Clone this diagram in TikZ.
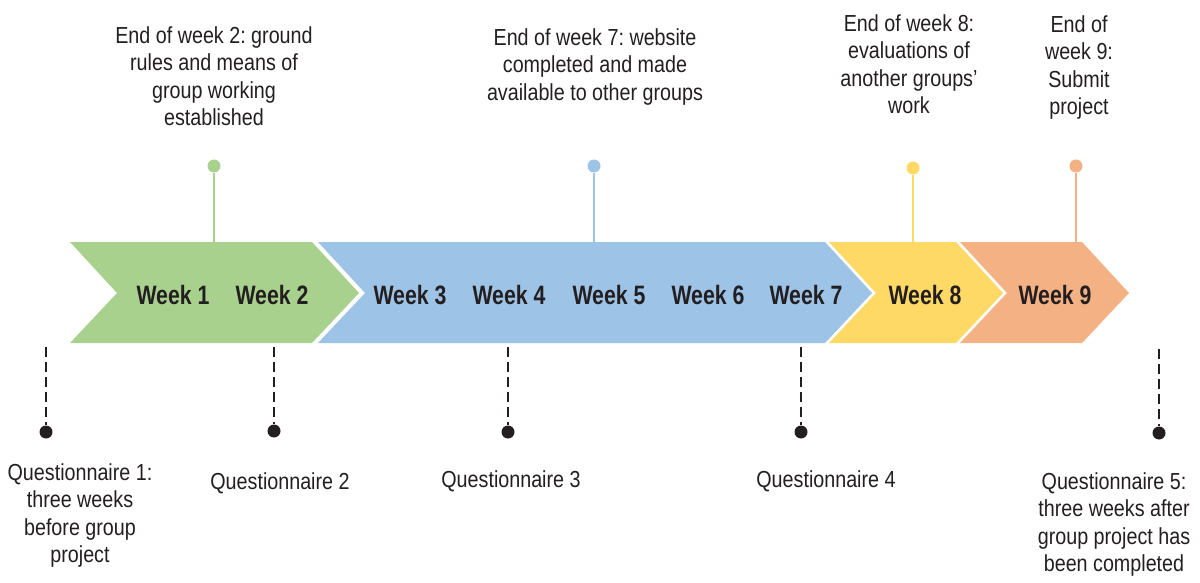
\documentclass[tikz,border=0pt]{standalone}
\usepackage{fontspec}
\setmainfont{Liberation Sans}[FakeStretch=0.85]
\newfontfamily\weekfont{Liberation Sans}[FakeStretch=0.8]
\usetikzlibrary{positioning}
\frenchspacing

\definecolor{ink}{HTML}{231F20}
\definecolor{wkgreen}{HTML}{A9D18E}
\definecolor{wkblue}{HTML}{9DC3E6}
\definecolor{wkyellow}{HTML}{FFD966}
\definecolor{wkorange}{HTML}{F4B183}

\begin{document}
\begin{tikzpicture}[x=0.5pt, y=-0.5pt,
    week/.style={font=\weekfont\bfseries\fontsize{13.3}{16}\selectfont, text=ink, inner sep=0pt},
    milestone/.style={font=\fontsize{11.6}{13.75}\selectfont, text=ink, align=center, inner sep=0pt, anchor=north},
    pinhead/.style={circle, fill=#1, inner sep=0pt, minimum size=6.5pt},
    pinline/.style={draw=#1, line width=1pt},
    qdot/.style={circle, fill=ink, inner sep=0pt, minimum size=6.5pt},
    qline/.style={draw=ink, line width=1.2pt, dash pattern=on 5pt off 2.5pt}]
    \useasboundingbox (0,0) rectangle (1200,583);

    % Chevrons: weeks 1-2, 3-7, 8 and 9
    \fill[wkgreen]  (70,242) -- (312,242) -- (359,293) -- (312,343) -- (70,343) -- (117,293) -- cycle;
    \fill[wkblue]   (318,242) -- (825,242) -- (872,293) -- (825,343) -- (318,343) -- (365,293) -- cycle;
    \fill[wkyellow] (829,242) -- (956,242) -- (1003,293) -- (956,343) -- (829,343) -- (876,293) -- cycle;
    \fill[wkorange] (960,242) -- (1082,242) -- (1129,293) -- (1082,343) -- (960,343) -- (1007,293) -- cycle;

    % Week labels
    \node[week] (w1) at (173,295) {Week 1};
    \node[week] (w2) at (272,295) {Week 2};
    \node[week] (w3) at (410,295) {Week 3};
    \node[week] (w4) at (509,295) {Week 4};
    \node[week] (w5) at (609,295) {Week 5};
    \node[week] (w6) at (708,295) {Week 6};
    \node[week] (w7) at (806,295) {Week 7};
    \node[week] (w8) at (925,295) {Week 8};
    \node[week] (w9) at (1055,295) {Week 9};

    % Milestones above the band
    \coordinate (t2) at (214,242);
    \coordinate (t7) at (594,242);
    \coordinate (t8) at (913,242);
    \coordinate (t9) at (1076,242);
    \node[pinhead=wkgreen]  (p2) at (214,166) {};
    \node[pinhead=wkblue]   (p7) at (594,166) {};
    \node[pinhead=wkyellow] (p8) at (913,168) {};
    \node[pinhead=wkorange] (p9) at (1076,166) {};
    \path[pinline=wkgreen]  (t2) -- (p2);
    \path[pinline=wkblue]   (t7) -- (p7);
    \path[pinline=wkyellow] (t8) -- (p8);
    \path[pinline=wkorange] (t9) -- (p9);

    \node[milestone] (m2) at (214,26) {End of week 2: ground\\rules and means of\\group working\\established};
    \node[milestone] (m7) at (595,28) {End of week 7: website\\completed and made\\available to other groups};
    \node[milestone] (m8) at (909,14) {End of week 8:\\evaluations of\\another groups'\\work};
    \node[milestone] (m9) at (1079,15) {End of\\week 9:\\Submit\\project};

    % Questionnaires below the band
    \coordinate (b1) at (46,347);
    \coordinate (b2) at (274,347);
    \coordinate (b3) at (508,347);
    \coordinate (b4) at (801,347);
    \coordinate (b5) at (1159,349);
    \node[qdot] (d1) at (46,432) {};
    \node[qdot] (d2) at (274,431) {};
    \node[qdot] (d3) at (508,432) {};
    \node[qdot] (d4) at (801,432) {};
    \node[qdot] (d5) at (1159,433) {};
    \path[qline] (b1) -- (d1);
    \path[qline] (b2) -- (d2);
    \path[qline] (b3) -- (d3);
    \path[qline] (b4) -- (d4);
    \path[qline] (b5) -- (d5);

    \node[milestone] (q1) at (80,463) {Questionnaire 1:\\three weeks\\before group\\project};
    \node[milestone] (q2) at (280,472) {Questionnaire 2};
    \node[milestone] (q3) at (511,470) {Questionnaire 3};
    \node[milestone] (q4) at (826,470) {Questionnaire 4};
    \node[milestone] (q5) at (1114,472) {Questionnaire 5:\\three weeks after\\group project has\\been completed};
\end{tikzpicture}
\end{document}
